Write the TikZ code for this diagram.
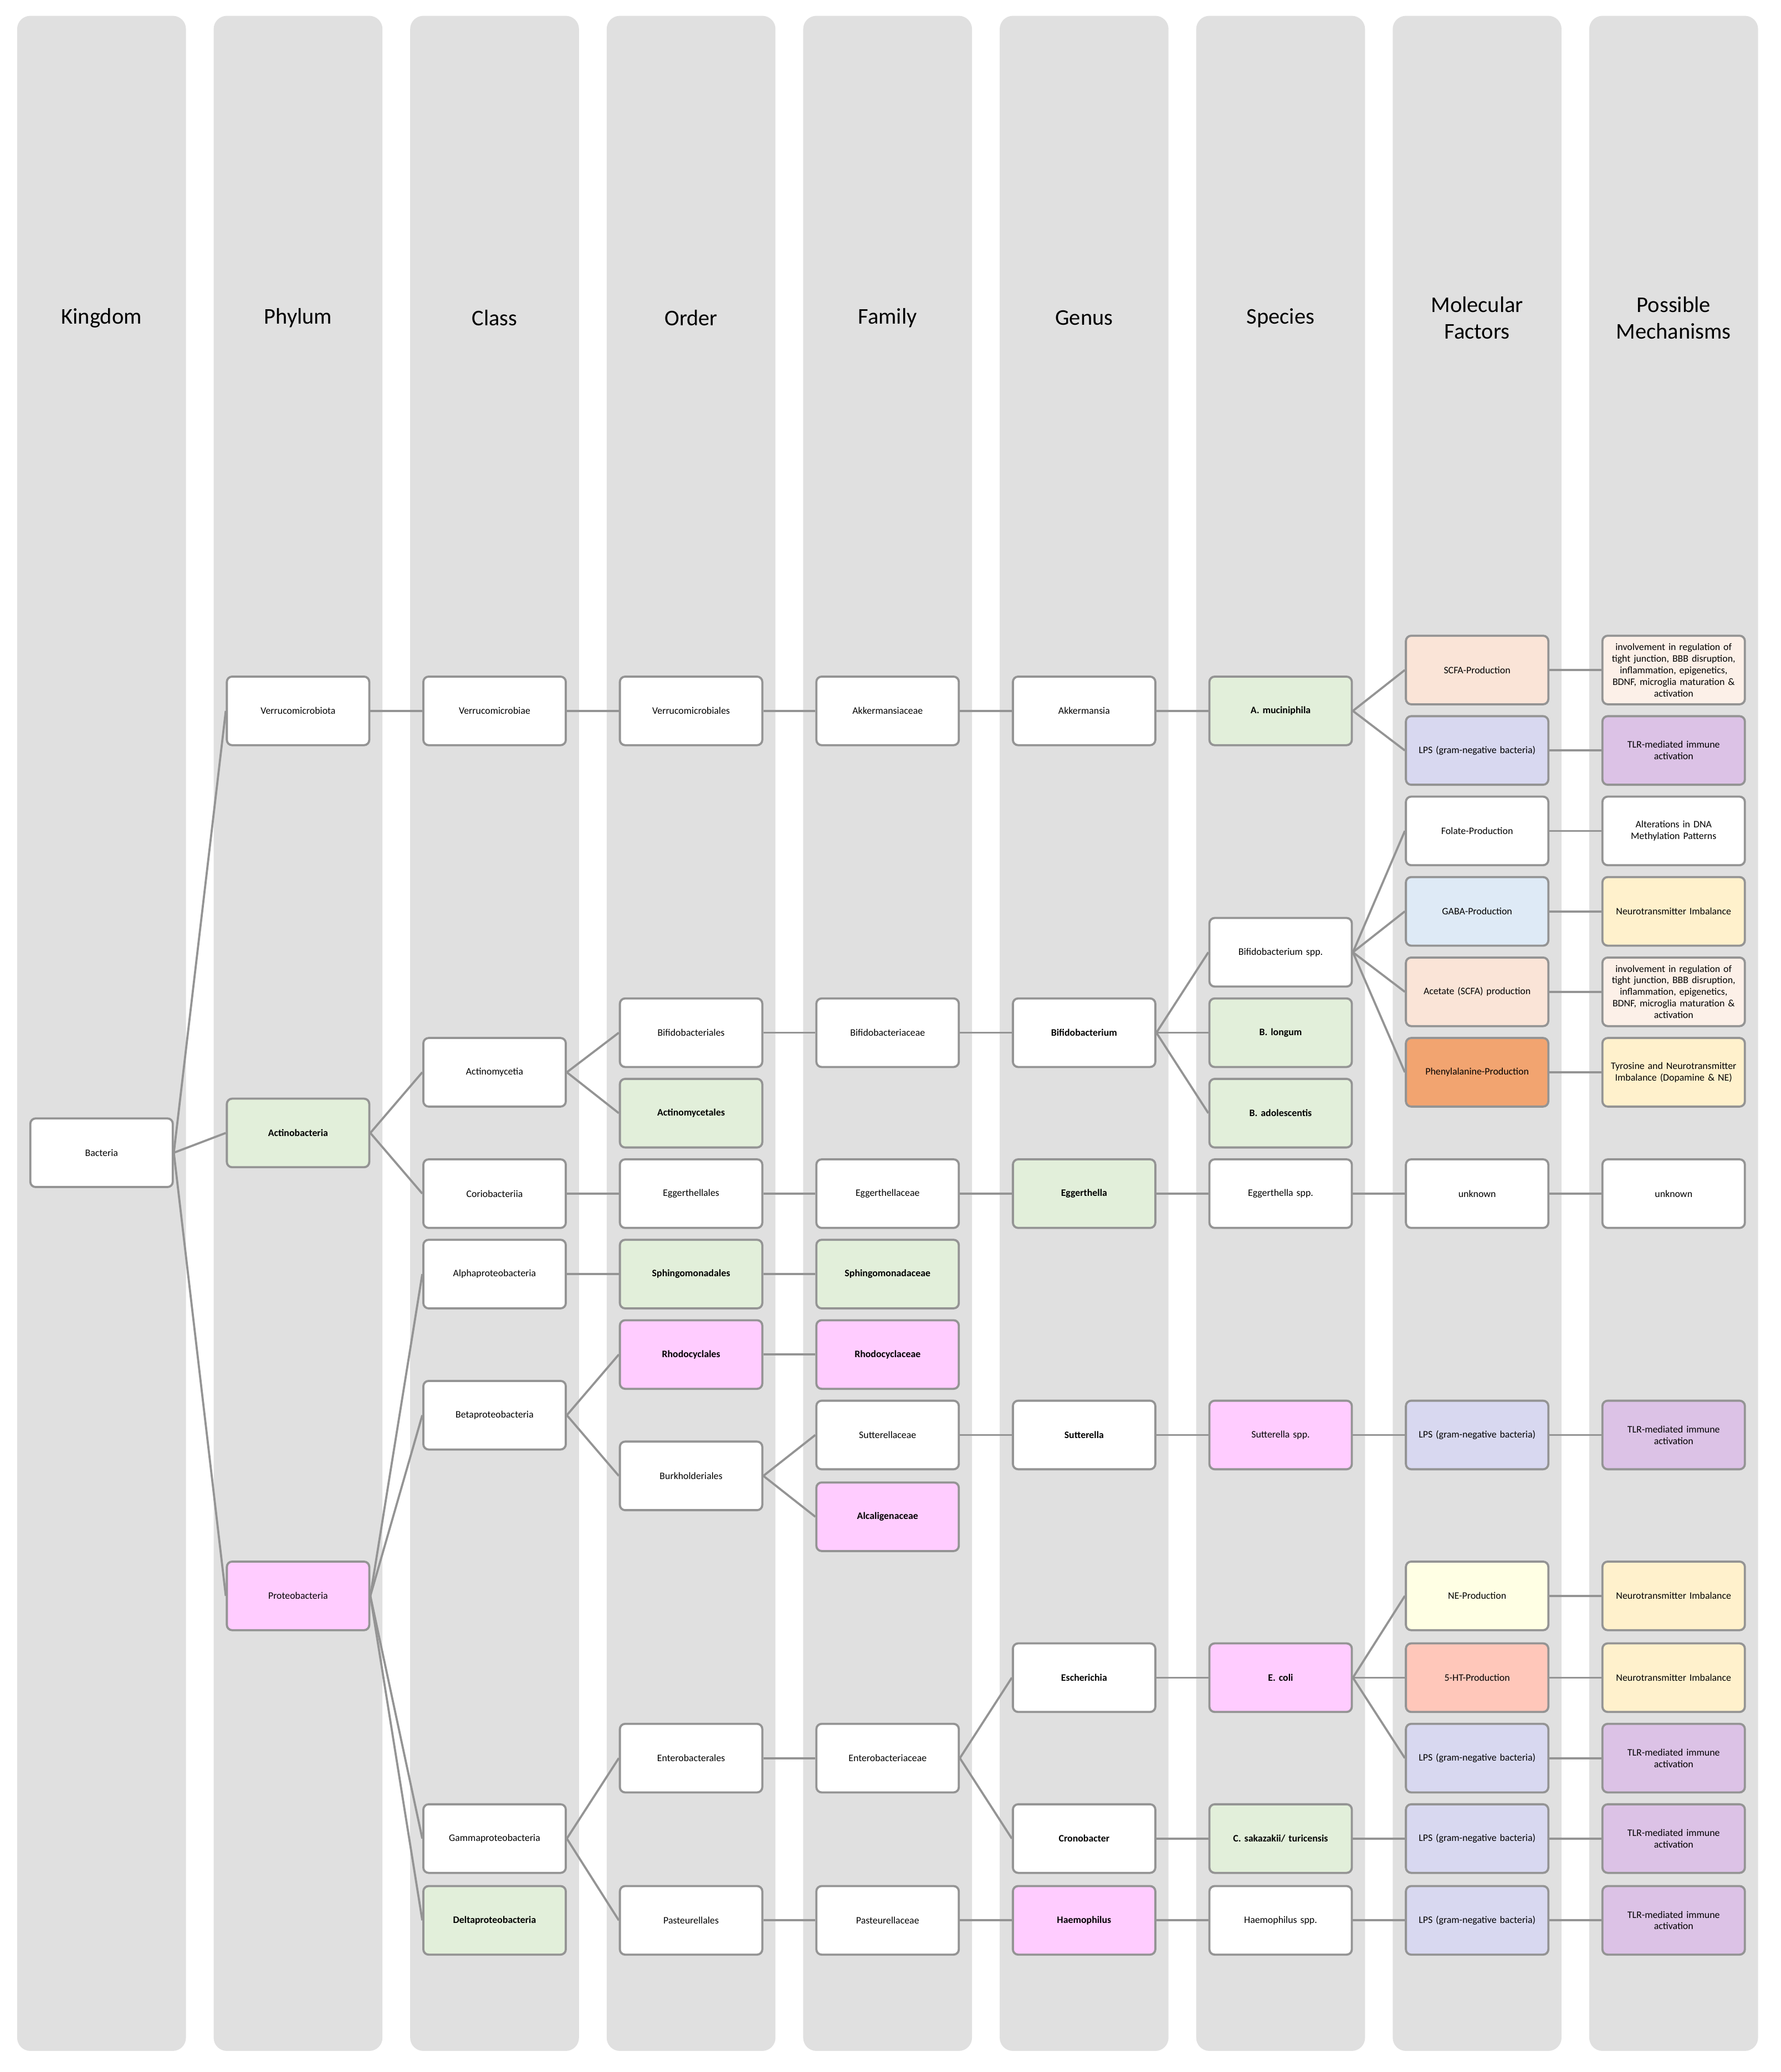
\documentclass[tikz,border=0pt]{standalone}
\usepackage{fontspec}
\setmainfont{Carlito}
\begin{document}
\begin{tikzpicture}[x=1pt,y=-1pt,
 nd/.style={draw=black!42,line width=1.6pt,fill=white,rounded corners=4pt,minimum width=106pt,minimum height=52pt,inner sep=1pt,align=center,text width=106pt,font=\fontsize{7.5}{8.8}\selectfont},
 bd/.style={font=\fontsize{7.5}{8.8}\selectfont\bfseries},
 grn/.style={fill={rgb,255:red,226;green,239;blue,218}},
 pnk/.style={fill={rgb,255:red,255;green,204;blue,255}},
 scfa/.style={fill={rgb,255:red,250;green,228;blue,215}},
 scfam/.style={fill={rgb,255:red,252;green,240;blue,232}},
 lps/.style={fill={rgb,255:red,216;green,216;blue,240}},
 tlr/.style={fill={rgb,255:red,220;green,194;blue,230}},
 gaba/.style={fill={rgb,255:red,222;green,234;blue,246}},
 neu/.style={fill={rgb,255:red,255;green,241;blue,204}},
 phe/.style={fill={rgb,255:red,242;green,164;blue,112}},
 ne/.style={fill={rgb,255:red,255;green,255;blue,228}},
 ht/.style={fill={rgb,255:red,255;green,199;blue,186}},
 ln/.style={draw=black!42,line width=1.6pt},
 lane/.style={fill=black!12,rounded corners=10pt},
 hd/.style={font=\fontsize{17}{20}\selectfont,align=center}]
\useasboundingbox (0,0) rectangle (1350,1571);
\def\longmech{involvement in regulation of\\tight junction, BBB disruption,\\inflammation, epigenetics,\\BDNF, microglia maturation \&\\activation}
\foreach \c/\t in {77/Kingdom,226/Phylum,375/Class,524/Order,673/Family,822/Genus,971/Species,1120/{Molecular\\Factors},1269/{Possible\\Mechanisms}}{
 \fill[lane] (\c-64,12) rectangle (\c+64,1555);
 \node[hd] at (\c,241) {\t};}
% kingdom
\node[nd] (bac) at (77,874) {Bacteria};
% phylum
\node[nd] (p1) at (226,539) {Verrucomicrobiota};
\node[nd,grn,bd] (p2) at (226,859) {Actinobacteria};
\node[nd,pnk] (p3) at (226,1210) {Proteobacteria};
% class
\node[nd] (c1) at (375,539) {Verrucomicrobiae};
\node[nd] (c2) at (375,813) {Actinomycetia};
\node[nd] (c3) at (375,905) {Coriobacteriia};
\node[nd] (c4) at (375,966) {Alphaproteobacteria};
\node[nd] (c5) at (375,1073) {Betaproteobacteria};
\node[nd] (c6) at (375,1394) {Gammaproteobacteria};
\node[nd,grn,bd] (c7) at (375,1456) {Deltaproteobacteria};
% order
\node[nd] (o1) at (524,539) {Verrucomicrobiales};
\node[nd] (o2) at (524,783) {Bifidobacteriales};
\node[nd,grn,bd] (o3) at (524,844) {Actinomycetales};
\node[nd] (o4) at (524,905) {Eggerthellales};
\node[nd,grn,bd] (o5) at (524,966) {Sphingomonadales};
\node[nd,pnk,bd] (o6) at (524,1027) {Rhodocyclales};
\node[nd] (o7) at (524,1119) {Burkholderiales};
\node[nd] (o8) at (524,1333) {Enterobacterales};
\node[nd] (o9) at (524,1456) {Pasteurellales};
% family
\node[nd] (f1) at (673,539) {Akkermansiaceae};
\node[nd] (f2) at (673,783) {Bifidobacteriaceae};
\node[nd] (f3) at (673,905) {Eggerthellaceae};
\node[nd,grn,bd] (f4) at (673,966) {Sphingomonadaceae};
\node[nd,pnk,bd] (f5) at (673,1027) {Rhodocyclaceae};
\node[nd] (f6) at (673,1088) {Sutterellaceae};
\node[nd,pnk,bd] (f7) at (673,1150) {Alcaligenaceae};
\node[nd] (f8) at (673,1333) {Enterobacteriaceae};
\node[nd] (f9) at (673,1456) {Pasteurellaceae};
% genus
\node[nd] (g1) at (822,539) {Akkermansia};
\node[nd,bd] (g2) at (822,783) {Bifidobacterium};
\node[nd,grn,bd] (g3) at (822,905) {Eggerthella};
\node[nd,bd] (g4) at (822,1088) {Sutterella};
\node[nd,bd] (g5) at (822,1272) {Escherichia};
\node[nd,bd] (g6) at (822,1394) {Cronobacter};
\node[nd,pnk,bd] (g7) at (822,1456) {Haemophilus};
% species
\node[nd,grn,bd] (s1) at (971,539) {A. muciniphila};
\node[nd] (s2) at (971,722) {Bifidobacterium spp.};
\node[nd,grn,bd] (s3) at (971,783) {B. longum};
\node[nd,grn,bd] (s4) at (971,844) {B. adolescentis};
\node[nd] (s5) at (971,905) {Eggerthella spp.};
\node[nd,pnk] (s6) at (971,1088) {Sutterella spp.};
\node[nd,pnk,bd] (s7) at (971,1272) {E. coli};
\node[nd,grn,bd] (s8) at (971,1394) {C. sakazakii/ turicensis};
\node[nd] (s9) at (971,1456) {Haemophilus spp.};
% factors
\node[nd,scfa] (m1) at (1120,508) {SCFA-Production};
\node[nd,lps] (m2) at (1120,569) {LPS (gram-negative bacteria)};
\node[nd] (m3) at (1120,630) {Folate-Production};
\node[nd,gaba] (m4) at (1120,691) {GABA-Production};
\node[nd,scfa] (m5) at (1120,752) {Acetate (SCFA) production};
\node[nd,phe] (m6) at (1120,813) {Phenylalanine-Production};
\node[nd] (m7) at (1120,905) {unknown};
\node[nd,lps] (m8) at (1120,1088) {LPS (gram-negative bacteria)};
\node[nd,ne] (m9) at (1120,1210) {NE-Production};
\node[nd,ht] (m10) at (1120,1272) {5-HT-Production};
\node[nd,lps] (m11) at (1120,1333) {LPS (gram-negative bacteria)};
\node[nd,lps] (m12) at (1120,1394) {LPS (gram-negative bacteria)};
\node[nd,lps] (m13) at (1120,1456) {LPS (gram-negative bacteria)};
% mechanisms
\node[nd,scfam] (x1) at (1269,508) {\longmech};
\node[nd,tlr] (x2) at (1269,569) {TLR-mediated immune\\activation};
\node[nd] (x3) at (1269,630) {Alterations in DNA\\Methylation Patterns};
\node[nd,neu] (x4) at (1269,691) {Neurotransmitter Imbalance};
\node[nd,scfam] (x5) at (1269,752) {\longmech};
\node[nd,neu] (x6) at (1269,813) {Tyrosine and Neurotransmitter\\Imbalance (Dopamine \& NE)};
\node[nd] (x7) at (1269,905) {unknown};
\node[nd,tlr] (x8) at (1269,1088) {TLR-mediated immune\\activation};
\node[nd,neu] (x9) at (1269,1210) {Neurotransmitter Imbalance};
\node[nd,neu] (x10) at (1269,1272) {Neurotransmitter Imbalance};
\node[nd,tlr] (x11) at (1269,1333) {TLR-mediated immune\\activation};
\node[nd,tlr] (x12) at (1269,1394) {TLR-mediated immune\\activation};
\node[nd,tlr] (x13) at (1269,1456) {TLR-mediated immune\\activation};
% edges
\foreach \a/\b in {bac/p1,bac/p2,bac/p3,p1/c1,p2/c2,p2/c3,p3/c4,p3/c5,p3/c6,p3/c7,
 c1/o1,c2/o2,c2/o3,c3/o4,c4/o5,c5/o6,c5/o7,c6/o8,c6/o9,
 o1/f1,o2/f2,o4/f3,o5/f4,o6/f5,o7/f6,o7/f7,o8/f8,o9/f9,
 f1/g1,f2/g2,f3/g3,f6/g4,f8/g5,f8/g6,f9/g7,
 g1/s1,g2/s2,g2/s3,g2/s4,g3/s5,g4/s6,g5/s7,g6/s8,g7/s9,
 s1/m1,s1/m2,s2/m3,s2/m4,s2/m5,s2/m6,s5/m7,s6/m8,s7/m9,s7/m10,s7/m11,s8/m12,s9/m13,
 m1/x1,m2/x2,m3/x3,m4/x4,m5/x5,m6/x6,m7/x7,m8/x8,m9/x9,m10/x10,m11/x11,m12/x12,m13/x13}
 \draw[ln] (\a.east) -- (\b.west);
\end{tikzpicture}
\end{document}
